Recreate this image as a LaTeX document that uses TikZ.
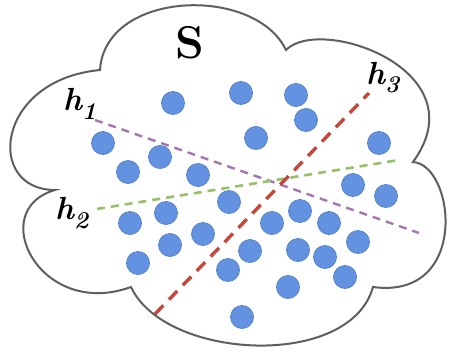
\documentclass[tikz,border=0pt]{standalone}
\begin{document}
\begin{tikzpicture}[x=1pt,y=-1pt,
  dot/.style={circle,inner sep=0pt,minimum size=23pt,fill=dotblue,draw=dotedge,line width=0.8pt},
  hlabel/.style={inner sep=0pt,anchor=base west,font=\fontsize{32}{34}\selectfont\bfseries\itshape},
  hone/.style={draw=hpurple,line width=2.4pt,dash pattern=on 8pt off 6pt},
  htwo/.style={draw=hgreen,line width=2.6pt,dash pattern=on 8pt off 6pt},
  hthree/.style={draw=hred,line width=3.4pt,dash pattern=on 12pt off 8pt}]
\definecolor{dotblue}{RGB}{98,146,224}
\definecolor{dotedge}{RGB}{88,132,206}
\definecolor{hpurple}{RGB}{165,118,178}
\definecolor{hgreen}{RGB}{152,192,104}
\definecolor{hred}{RGB}{196,72,62}
\definecolor{cloudline}{RGB}{95,95,95}
\useasboundingbox (0,0) rectangle (452,351);
\fill[white] (0,0) rectangle (452,351);
% cloud
\draw[cloudline,line width=2pt,fill=white]
  (100,70) .. controls (105,-10) and (255,-15) .. (286,50)
  .. controls (320,15) and (480,70) .. (413,162)
  .. controls (455,165) and (470,300) .. (373,287)
  .. controls (350,370) and (165,360) .. (131,287)
  .. controls (40,320) and (-15,210) .. (55,190)
  .. controls (-15,190) and (-5,80) .. cycle;
% dots
\foreach \n/\x/\y in {1/173/103,2/241/93,3/296/95,4/306/120,5/256/138,6/103/143,
  7/160/157,8/128/172,9/198/175,10/379/143,11/353/185,12/386/196,13/229/202,
  14/130/223,15/166/213,16/170/245,17/203/234,18/138/263,19/228/270,20/300/211,
  21/272/223,22/329/223,23/358/242,24/250/251,25/298/250,26/325/257,27/345/277,
  28/288/287,29/242/317}
  \node[dot] (d\n) at (\x,\y) {};
% hyperplanes
\coordinate (h1a) at (95,120);  \coordinate (h1b) at (419,233);
\coordinate (h2a) at (97,209);  \coordinate (h2b) at (399,160);
\coordinate (h3a) at (155,314); \coordinate (h3b) at (369,93);
\draw[hone] (h1a) -- (h1b);
\draw[htwo] (h2a) -- (h2b);
\draw[hthree] (h3a) -- (h3b);
% labels
\node[inner sep=0pt,font=\fontsize{46}{48}\selectfont\bfseries] (S) at (190,43) {S};
\node[hlabel] (l1) at (63,110) {h\raisebox{-9pt}{\fontsize{24}{24}\selectfont 1}};
\node[hlabel] (l2) at (55,219) {h\raisebox{-9pt}{\fontsize{24}{24}\selectfont 2}};
\node[hlabel] (l3) at (366,84) {h\raisebox{-8pt}{\fontsize{24}{24}\selectfont 3}};
\end{tikzpicture}
\end{document}
